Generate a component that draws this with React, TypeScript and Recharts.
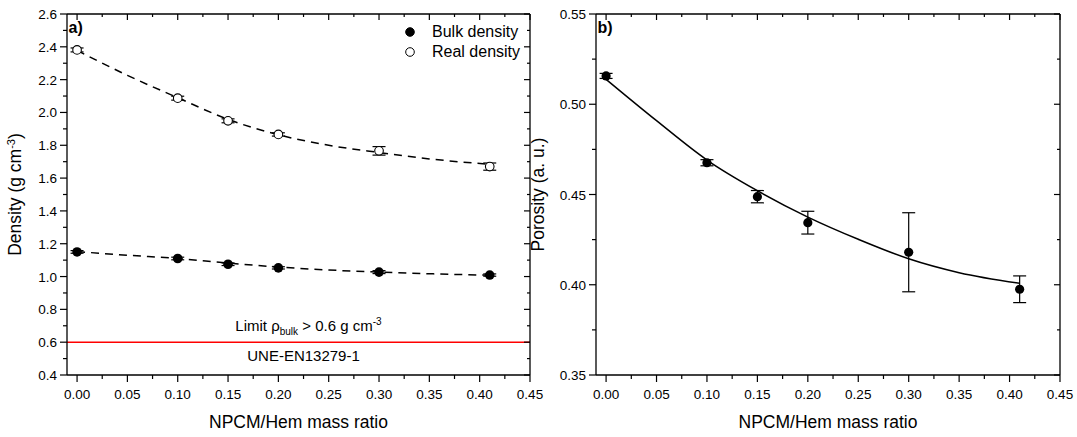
import React from "react";
import {
  ComposedChart,
  ErrorBar,
  Legend,
  Line,
  ReferenceLine,
  Scatter,
  XAxis,
  YAxis,
} from "recharts";

const FONT = "'Liberation Sans', Arial, sans-serif";

// measured points
const massRatio = [0, 0.1, 0.15, 0.2, 0.3, 0.41];
const bulkDensity = [1.15, 1.11, 1.075, 1.053, 1.027, 1.009];
const bulkDensityErr = [0.008, 0.008, 0.008, 0.007, 0.009, 0.007];
const realDensity = [2.381, 2.087, 1.949, 1.866, 1.766, 1.67];
const realDensityErr = [0.012, 0.012, 0.012, 0.01, 0.026, 0.022];
const porosity = [0.5157, 0.4676, 0.4488, 0.4344, 0.418, 0.3975];
const porosityErr = [0.0014, 0.0017, 0.0034, 0.0063, 0.0219, 0.0074];

// fitted curves
const fitRatio = [0, 0.05, 0.1, 0.15, 0.2, 0.25, 0.3, 0.35, 0.41];
const bulkFit = [1.152, 1.13, 1.11, 1.082, 1.058, 1.04, 1.027, 1.017, 1.008];
const realFit = [2.378, 2.226, 2.09, 1.958, 1.864, 1.8, 1.756, 1.717, 1.684];
const porosityFit = [0.5138, 0.4909, 0.4691, 0.4521, 0.4375, 0.4252, 0.4144, 0.4067, 0.4008];

// axes (major + minor)
const ratioTicks = [
  0, 0.025, 0.05, 0.075, 0.1, 0.125, 0.15, 0.175, 0.2, 0.225, 0.25, 0.275, 0.3,
  0.325, 0.35, 0.375, 0.4, 0.425, 0.45,
];
const densityTicks = [
  0.4, 0.5, 0.6, 0.7, 0.8, 0.9, 1.0, 1.1, 1.2, 1.3, 1.4, 1.5, 1.6, 1.7, 1.8, 1.9,
  2.0, 2.1, 2.2, 2.3, 2.4, 2.5, 2.6,
];
const porosityTicks = [0.35, 0.375, 0.4, 0.425, 0.45, 0.475, 0.5, 0.525, 0.55];

const ratioDomain = [-0.01, 0.45];

const points = (ys: number[], errs: number[]) =>
  massRatio.map((x, i) => ({ x, y: ys[i], err: errs[i] }));
const curve = (ys: number[]) => fitRatio.map((x, i) => ({ x, y: ys[i] }));

const axisLine = { stroke: "#000", strokeWidth: 1.3 };

const isMajor = (v: number, step: number) =>
  Math.abs(v / step - Math.round(v / step)) < 1e-6;

function BottomTick(p: any) {
  const major = isMajor(p.payload.value, 0.05);
  return (
    <g>
      <line x1={p.x} x2={p.x} y1={p.y} y2={p.y + (major ? 7 : 4)} stroke="#000" strokeWidth={1.2} />
      {major && (
        <text x={p.x} y={p.y + 24} textAnchor="middle" fontSize={13.5} fontFamily={FONT} fill="#000">
          {p.payload.value.toFixed(2)}
        </text>
      )}
    </g>
  );
}

function TopTick(p: any) {
  const major = isMajor(p.payload.value, 0.05);
  return <line x1={p.x} x2={p.x} y1={p.y} y2={p.y + (major ? 6 : 3)} stroke="#000" strokeWidth={1.2} />;
}

function LeftTick(p: any, step: number, digits: number) {
  const major = isMajor(p.payload.value, step);
  return (
    <g>
      <line x1={p.x} x2={p.x - (major ? 7 : 4)} y1={p.y} y2={p.y} stroke="#000" strokeWidth={1.2} />
      {major && (
        <text x={p.x - 10} y={p.y + 5} textAnchor="end" fontSize={13.5} fontFamily={FONT} fill="#000">
          {p.payload.value.toFixed(digits)}
        </text>
      )}
    </g>
  );
}

function RightTick(p: any, step: number) {
  const major = isMajor(p.payload.value, step);
  return <line x1={p.x} x2={p.x - (major ? 6 : 3)} y1={p.y} y2={p.y} stroke="#000" strokeWidth={1.2} />;
}

function panelTag(text: string) {
  return (props: any) => {
    const vb = props.viewBox;
    return (
      <text x={vb.x + 1.5} y={vb.y + vb.height + 19} fontSize={16} fontWeight="bold" fontFamily={FONT} fill="#000">
        {text}
      </text>
    );
  };
}

function xTitle(props: any) {
  const vb = props.viewBox;
  return (
    <text x={vb.x + vb.width / 2} y={vb.y + 53} textAnchor="middle" fontSize={17.5} fontFamily={FONT} fill="#000">
      NPCM/Hem mass ratio
    </text>
  );
}

function densityTitle(props: any) {
  const vb = props.viewBox;
  const cx = vb.x + 21;
  const cy = vb.y + vb.height / 2;
  return (
    <text x={cx} y={cy} transform={`rotate(-90, ${cx}, ${cy})`} textAnchor="middle" fontSize={17.5} fontFamily={FONT} fill="#000">
      <tspan>Density (g cm</tspan>
      <tspan dy={-6} fontSize={11}>-3</tspan>
      <tspan dy={6}>)</tspan>
    </text>
  );
}

function porosityTitle(props: any) {
  const vb = props.viewBox;
  const cx = vb.x + 19;
  const cy = vb.y + vb.height / 2;
  return (
    <text x={cx} y={cy} transform={`rotate(-90, ${cx}, ${cy})`} textAnchor="middle" fontSize={17.5} fontFamily={FONT} fill="#000">
      Porosity (a. u.)
    </text>
  );
}

function limitLabel(props: any) {
  const vb = props.viewBox;
  const cx = vb.x + vb.width / 2;
  return (
    <g fontFamily={FONT} fill="#000">
      <text x={cx + 10} y={vb.y - 11} textAnchor="middle" fontSize={15}>
        <tspan>Limit ρ</tspan>
        <tspan dy={4} fontSize={10}>bulk</tspan>
        <tspan dy={-4}> &gt; 0.6 g cm</tspan>
        <tspan dy={-6} fontSize={10}>-3</tspan>
      </text>
      <text x={cx + 5} y={vb.y + 19} textAnchor="middle" fontSize={15}>
        UNE-EN13279-1
      </text>
    </g>
  );
}

const legendNames = ["Bulk density", "Real density"];

function LegendBox({ payload }: any) {
  const items = (payload ?? []).filter((e: any) => legendNames.includes(e.value));
  return (
    <div style={{ fontFamily: FONT, fontSize: 16, lineHeight: "20px", color: "#000" }}>
      {items.map((e: any) => (
        <div key={e.value} style={{ display: "flex", alignItems: "center", height: 20 }}>
          <svg width={28} height={20}>
            <circle cx={6} cy={10} r={4.3} fill={e.color} stroke="#000" strokeWidth={1} />
          </svg>
          <span>{e.value}</span>
        </div>
      ))}
    </div>
  );
}

const filledDot = (r: number) => (p: any) => <circle cx={p.cx} cy={p.cy} r={r} fill="#000" />;
const openDot = (p: any) => <circle cx={p.cx} cy={p.cy} r={4.3} fill="#fff" stroke="#000" strokeWidth={1.1} />;

function DensityPanel() {
  return (
    <ComposedChart width={545} height={437} margin={{ top: 13, right: 14, bottom: 0, left: 0 }}>
      <XAxis
        xAxisId="top"
        orientation="top"
        type="number"
        dataKey="x"
        domain={ratioDomain}
        allowDataOverflow
        ticks={ratioTicks}
        interval={0}
        height={1}
        tickSize={0}
        tickMargin={0}
        tickLine={false}
        axisLine={axisLine}
        tick={(p: any) => <TopTick {...p} />}
        label={panelTag("a)")}
      />
      <YAxis
        yAxisId="right"
        orientation="right"
        type="number"
        domain={[0.4, 2.6]}
        allowDataOverflow
        ticks={densityTicks}
        interval={0}
        width={1}
        tickSize={0}
        tickMargin={0}
        tickLine={false}
        axisLine={axisLine}
        tick={(p: any) => RightTick(p, 0.2)}
      />
      <XAxis
        type="number"
        dataKey="x"
        domain={ratioDomain}
        allowDataOverflow
        ticks={ratioTicks}
        interval={0}
        height={62}
        tickSize={0}
        tickMargin={0}
        tickLine={false}
        axisLine={axisLine}
        tick={(p: any) => <BottomTick {...p} />}
        label={xTitle}
      />
      <YAxis
        type="number"
        domain={[0.4, 2.6]}
        allowDataOverflow
        ticks={densityTicks}
        interval={0}
        width={67}
        tickSize={0}
        tickMargin={0}
        tickLine={false}
        axisLine={axisLine}
        tick={(p: any) => LeftTick(p, 0.2, 1)}
        label={densityTitle}
      />
      <ReferenceLine y={0.6} stroke="#ff0000" strokeWidth={1.5} label={limitLabel} />
      <Line data={curve(realFit)} dataKey="y" type="monotone" stroke="#000" strokeWidth={1.5} strokeDasharray="8 6" dot={false} legendType="none" isAnimationActive={false} />
      <Line data={curve(bulkFit)} dataKey="y" type="monotone" stroke="#000" strokeWidth={1.5} strokeDasharray="8 6" dot={false} legendType="none" isAnimationActive={false} />
      <Scatter name="Bulk density" data={points(bulkDensity, bulkDensityErr)} dataKey="y" fill="#000" shape={filledDot(4.8)} isAnimationActive={false}>
        <ErrorBar dataKey="err" direction="y" width={6.5} stroke="#000" strokeWidth={1.2} isAnimationActive={false} />
      </Scatter>
      <Scatter name="Real density" data={points(realDensity, realDensityErr)} dataKey="y" fill="#fff" shape={openDot} isAnimationActive={false}>
        <ErrorBar dataKey="err" direction="y" width={6.5} stroke="#000" strokeWidth={1.2} isAnimationActive={false} />
      </Scatter>
      <Legend
        layout="vertical"
        align="center"
        verticalAlign="middle"
        wrapperStyle={{ top: 22, left: 404, width: 130, height: 40 }}
        content={(p: any) => <LegendBox payload={p.payload} />}
      />
    </ComposedChart>
  );
}

function PorosityPanel() {
  return (
    <ComposedChart width={552} height={437} margin={{ top: 13, right: 16, bottom: 0, left: 0 }}>
      <XAxis
        xAxisId="top"
        orientation="top"
        type="number"
        dataKey="x"
        domain={ratioDomain}
        allowDataOverflow
        ticks={ratioTicks}
        interval={0}
        height={1}
        tickSize={0}
        tickMargin={0}
        tickLine={false}
        axisLine={axisLine}
        tick={(p: any) => <TopTick {...p} />}
        label={panelTag("b)")}
      />
      <YAxis
        yAxisId="right"
        orientation="right"
        type="number"
        domain={[0.35, 0.55]}
        allowDataOverflow
        ticks={porosityTicks}
        interval={0}
        width={1}
        tickSize={0}
        tickMargin={0}
        tickLine={false}
        axisLine={axisLine}
        tick={(p: any) => RightTick(p, 0.05)}
      />
      <XAxis
        type="number"
        dataKey="x"
        domain={ratioDomain}
        allowDataOverflow
        ticks={ratioTicks}
        interval={0}
        height={62}
        tickSize={0}
        tickMargin={0}
        tickLine={false}
        axisLine={axisLine}
        tick={(p: any) => <BottomTick {...p} />}
        label={xTitle}
      />
      <YAxis
        type="number"
        domain={[0.35, 0.55]}
        allowDataOverflow
        ticks={porosityTicks}
        interval={0}
        width={71}
        tickSize={0}
        tickMargin={0}
        tickLine={false}
        axisLine={axisLine}
        tick={(p: any) => LeftTick(p, 0.05, 2)}
        label={porosityTitle}
      />
      <Line data={curve(porosityFit)} dataKey="y" type="monotone" stroke="#000" strokeWidth={1.5} dot={false} legendType="none" isAnimationActive={false} />
      <Scatter name="Porosity" data={points(porosity, porosityErr)} dataKey="y" fill="#000" shape={filledDot(4.6)} isAnimationActive={false}>
        <ErrorBar dataKey="err" direction="y" width={6.5} stroke="#000" strokeWidth={1.2} isAnimationActive={false} />
      </Scatter>
    </ComposedChart>
  );
}

export default function App() {
  return (
    <div style={{ position: "absolute", left: 0, top: 0, width: 1077, height: 437, background: "#fff" }}>
      <div style={{ position: "absolute", left: 0, top: 0 }}>
        <DensityPanel />
      </div>
      <div style={{ position: "absolute", left: 525, top: 0 }}>
        <PorosityPanel />
      </div>
    </div>
  );
}
